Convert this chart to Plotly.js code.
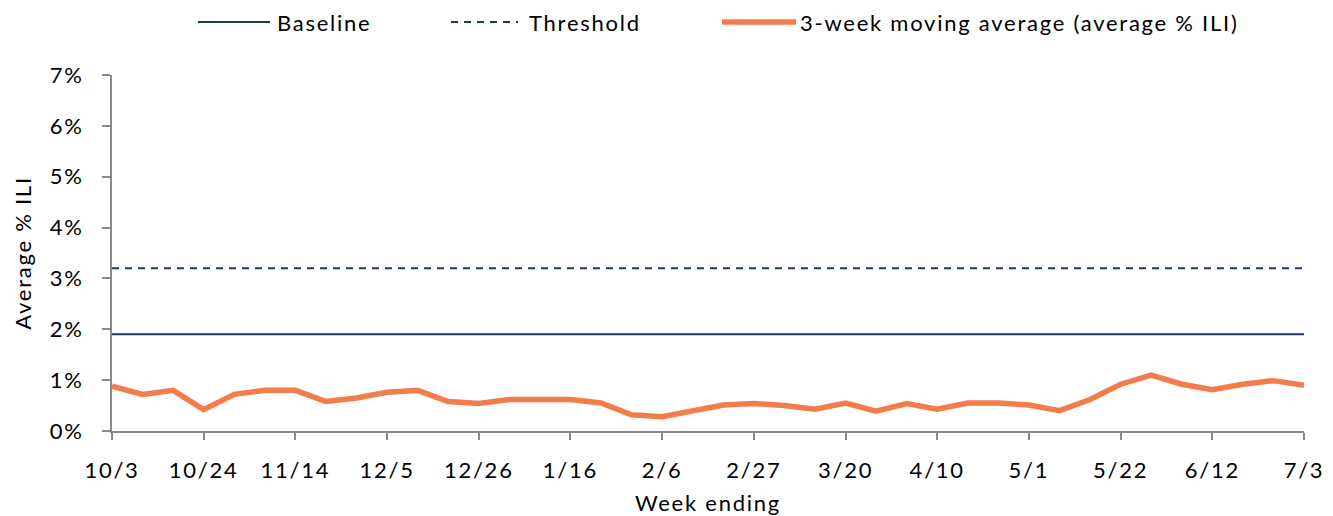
<!DOCTYPE html>
<html>
<head>
<meta charset="utf-8">
<script src="https://cdn.plot.ly/plotly-3.0.1.min.js"></script>
<style>
html, body { margin: 0; padding: 0; background: #ffffff; }
#chart { width: 1333px; height: 516px; }
svg text { letter-spacing: 1.75px; }
</style>
</head>
<body>
<div id="chart"></div>
<script>
// ---- data ----
const weeks = ["10/3","10/10","10/17","10/24","10/31","11/7","11/14","11/21","11/28","12/5",
  "12/12","12/19","12/26","1/2","1/9","1/16","1/23","1/30","2/6","2/13",
  "2/20","2/27","3/6","3/13","3/20","3/27","4/3","4/10","4/17","4/24",
  "5/1","5/8","5/15","5/22","5/29","6/5","6/12","6/19","6/26","7/3"];
const tickWeeks = ["10/3","10/24","11/14","12/5","12/26","1/16","2/6","2/27","3/20","4/10","5/1","5/22","6/12","7/3"];
const movingAvg = [0.88,0.72,0.80,0.42,0.72,0.80,0.80,0.58,0.65,0.76,
  0.80,0.58,0.54,0.62,0.62,0.62,0.55,0.32,0.28,0.40,
  0.51,0.54,0.50,0.43,0.55,0.39,0.54,0.43,0.55,0.55,
  0.51,0.40,0.62,0.92,1.10,0.92,0.81,0.92,0.99,0.90];
const baselineValue = 1.9;
const thresholdValue = 3.2;
const seriesNames = ["Baseline", "Threshold", "3-week moving average (average % ILI)"];

// ---- styling ----
const FONT = "Lato, sans-serif";
const FS = 22;
const navy = "#1F3864";
const orange = "#F47B4A";
const axisGrey = "#898989";

const W = 1333, H = 516;
const M = { l: 112, r: 29, t: 75, b: 85 };
const plotW = W - M.l - M.r, plotH = H - M.t - M.b;
const px = x => (x - M.l) / plotW;
const py = y => (H - M.b - y) / plotH;

const firstLast = [weeks[0], weeks[weeks.length - 1]];

const traces = [
  { x: firstLast, y: [baselineValue, baselineValue], type: "scatter", mode: "lines",
    name: seriesNames[0], line: { color: navy, width: 2 }, hoverinfo: "skip" },
  { x: firstLast, y: [thresholdValue, thresholdValue], type: "scatter", mode: "lines",
    name: seriesNames[1], line: { color: navy, width: 2, dash: "7px,6px" }, hoverinfo: "skip" },
  { x: weeks, y: movingAvg, type: "scatter", mode: "lines",
    name: seriesNames[2], line: { color: orange, width: 5.5 } }
];

const legendY = py(22);
const legendItems = [
  { x0: 198, x1: 270, tx: 275, color: navy, width: 2, dash: "solid", name: seriesNames[0] },
  { x0: 451, x1: 518, tx: 527, color: navy, width: 2, dash: "7px,6px", name: seriesNames[1] },
  { x0: 722, x1: 796, tx: 798, color: orange, width: 5.5, dash: "solid", name: seriesNames[2] }
];

const shapes = legendItems.map(it => ({
  type: "line", xref: "paper", yref: "paper",
  x0: px(it.x0), x1: px(it.x1), y0: legendY, y1: legendY,
  line: { color: it.color, width: it.width, dash: it.dash }
}));
const annotations = legendItems.map(it => ({
  xref: "paper", yref: "paper", x: px(it.tx), y: legendY,
  xanchor: "left", yanchor: "middle", showarrow: false, text: it.name,
  font: { family: FONT, size: FS, color: "#000" }
}));

const layout = {
  width: W, height: H,
  margin: M,
  paper_bgcolor: "#ffffff", plot_bgcolor: "#ffffff",
  showlegend: false,
  font: { family: FONT, size: FS, color: "#000" },
  xaxis: {
    type: "category",
    categoryorder: "array", categoryarray: weeks,
    range: [0, weeks.length - 1],
    tickmode: "array", tickvals: tickWeeks, ticktext: tickWeeks,
    showgrid: false, zeroline: false,
    showline: true, linecolor: axisGrey, linewidth: 2,
    ticks: "outside", ticklen: 7, tickwidth: 2, tickcolor: axisGrey,
    ticklabelstandoff: 12,
    tickfont: { family: FONT, size: FS, color: "#000" },
    title: { text: "Week ending", font: { family: FONT, size: FS, color: "#000" }, standoff: 13 },
    automargin: false, fixedrange: true
  },
  yaxis: {
    range: [0, 7], dtick: 1, tick0: 0, ticksuffix: "%",
    showgrid: false, zeroline: false,
    showline: true, linecolor: axisGrey, linewidth: 2,
    ticks: "outside", ticklen: 8, tickwidth: 2, tickcolor: axisGrey,
    ticklabelstandoff: 14,
    tickfont: { family: FONT, size: FS, color: "#000" },
    title: { text: "Average % ILI", font: { family: FONT, size: FS, color: "#000" }, standoff: 12 },
    automargin: false, fixedrange: true
  },
  shapes: shapes,
  annotations: annotations
};

Plotly.newPlot("chart", traces, layout, { displayModeBar: false, staticPlot: true });
</script>
</body>
</html>
